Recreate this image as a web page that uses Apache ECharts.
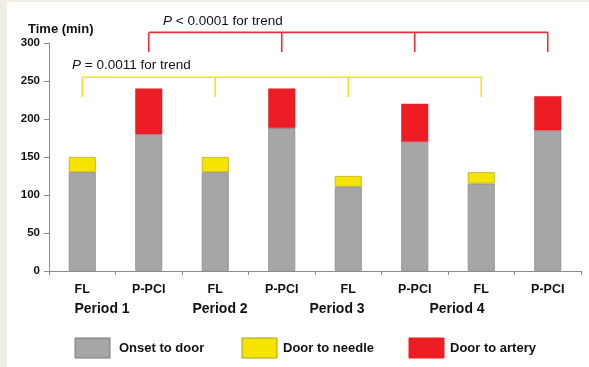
<!DOCTYPE html>
<html>
<head>
<meta charset="utf-8">
<script src="https://cdn.jsdelivr.net/npm/echarts@6/dist/echarts.min.js"></script>
<style>
  html, body { margin: 0; padding: 0; background: #ffffff; }
  #chart { width: 589px; height: 367px; }
</style>
</head>
<body>
<div id="chart"></div>
<script>
// Treatment groups along the x axis (fibrinolysis vs primary PCI, per period)
const categories = ['FL', 'P-PCI', 'FL', 'P-PCI', 'FL', 'P-PCI', 'FL', 'P-PCI'];
const periods = ['Period 1', 'Period 2', 'Period 3', 'Period 4'];

// Median times in minutes (stacked segments)
const onsetToDoor   = [130, 180, 130, 188, 111, 170, 115, 185];
const doorToNeedle  = [20, '-', 20, '-', 14, '-', 15, '-'];
const doorToArtery  = ['-', 60, '-', 52, '-', 50, '-', 45];

const yTicks = [0, 50, 100, 150, 200, 250, 300];

// Trend brackets: which bars they join and their heights (minutes)
const fibrinolysisIdx = [0, 2, 4, 6];
const pciIdx = [1, 3, 5, 7];
const pciBracket = { top: 314, foot: 288 };
const flBracket = { top: 255, foot: 229 };

const FONT = '"Liberation Sans", Arial, Helvetica, sans-serif';
const GRAY = '#a6a6a6', YELLOW = '#f5e400', RED = '#ee1d25';

const chart = echarts.init(document.getElementById('chart'), null, { renderer: 'canvas' });

const option = {
  backgroundColor: '#ffffff',
  animation: false,
  grid: { left: 49, right: 8, top: 43, bottom: 96, containLabel: false },
  xAxis: {
    type: 'category',
    data: categories,
    boundaryGap: true,
    axisLine: { lineStyle: { color: '#8c8c8c', width: 1 } },
    axisTick: { show: true, inside: false, length: 4, interval: 0, lineStyle: { color: '#8c8c8c' } },
    axisLabel: { color: '#111', fontFamily: FONT, fontWeight: 'bold', fontSize: 12.5, margin: 12 }
  },
  yAxis: {
    type: 'value',
    min: yTicks[0],
    max: yTicks[yTicks.length - 1],
    interval: 50,
    splitLine: { show: false },
    axisLine: { show: true, lineStyle: { color: '#8c8c8c', width: 1 } },
    axisTick: { show: true, length: 5, lineStyle: { color: '#8c8c8c' } },
    axisLabel: { color: '#111', fontFamily: FONT, fontWeight: 'bold', fontSize: 11.5, margin: 9 }
  },
  series: [
    {
      name: 'Onset to door', type: 'bar', stack: 'time', barWidth: 27,
      data: onsetToDoor,
      itemStyle: { color: GRAY, borderColor: '#8e8e8e', borderWidth: 0.8 }
    },
    {
      name: 'Door to needle', type: 'bar', stack: 'time', barWidth: 27,
      data: doorToNeedle,
      itemStyle: { color: YELLOW, borderColor: '#b8ab2a', borderWidth: 0.8 }
    },
    {
      name: 'Door to artery', type: 'bar', stack: 'time', barWidth: 27,
      data: doorToArtery,
      itemStyle: { color: RED, borderColor: '#d81820', borderWidth: 0.5 }
    }
  ],
  legend: { show: false }
};
chart.setOption(option);

// Annotation layer: frame, axis title, period labels, legend, trend brackets
function bracket(indices, b, color) {
  const topPts = indices.map(i => chart.convertToPixel({ gridIndex: 0 }, [i, b.top]));
  const els = [{
    type: 'polyline',
    shape: { points: [topPts[0], topPts[topPts.length - 1]] },
    style: { stroke: color, lineWidth: 1.6, fill: null }
  }];
  indices.forEach(i => {
    const p1 = chart.convertToPixel({ gridIndex: 0 }, [i, b.top]);
    const p2 = chart.convertToPixel({ gridIndex: 0 }, [i, b.foot]);
    els.push({
      type: 'polyline',
      shape: { points: [p1, p2] },
      style: { stroke: color, lineWidth: 1.6, fill: null }
    });
  });
  return els;
}

const periodCenters = [102, 220, 337, 457];
const legendItems = [
  { name: 'Onset to door',  color: GRAY,   border: '#7a7a7a', x: 75,  gap: 44 },
  { name: 'Door to needle', color: YELLOW, border: '#a89c20', x: 242, gap: 41 },
  { name: 'Door to artery', color: RED,    border: RED,       x: 409, gap: 41 }
];

const richP = { i: { fontStyle: 'italic', fontSize: 13.5, fontFamily: FONT, fill: '#111' } };

const graphics = [
  { type: 'rect', shape: { x: 0, y: 0, width: 7, height: 367 }, style: { fill: '#efece3' }, z: 100 },
  { type: 'rect', shape: { x: 0, y: 0, width: 589, height: 2 }, style: { fill: '#efece3' }, z: 100 },
  {
    type: 'text', x: 28, y: 29,
    style: { text: 'Time (min)', fill: '#111', font: 'bold 13px ' + FONT, verticalAlign: 'middle' }
  },
  {
    type: 'text', x: 163, y: 21,
    style: {
      text: '{i|P} < 0.0001 for trend',
      fill: '#111', font: '13.5px ' + FONT, verticalAlign: 'middle',
      rich: richP
    }
  },
  {
    type: 'text', x: 72, y: 65,
    style: {
      text: '{i|P} = 0.0011 for trend',
      fill: '#111', font: '13.5px ' + FONT, verticalAlign: 'middle',
      rich: richP
    }
  }
];

periods.forEach((p, k) => {
  graphics.push({
    type: 'text', x: periodCenters[k], y: 309,
    style: { text: p, fill: '#111', font: 'bold 14px ' + FONT, align: 'center', verticalAlign: 'middle' }
  });
});

legendItems.forEach(it => {
  graphics.push({
    type: 'rect', shape: { x: it.x, y: 338, width: 35, height: 20 },
    style: { fill: it.color, stroke: it.border, lineWidth: 1 }
  });
  graphics.push({
    type: 'text', x: it.x + it.gap, y: 348,
    style: { text: it.name, fill: '#111', font: 'bold 13px ' + FONT, verticalAlign: 'middle' }
  });
});

bracket(pciIdx, pciBracket, '#e8323b').forEach(e => graphics.push(e));
bracket(fibrinolysisIdx, flBracket, '#f2e31a').forEach(e => graphics.push(e));

chart.setOption({ graphic: graphics });
</script>
</body>
</html>
